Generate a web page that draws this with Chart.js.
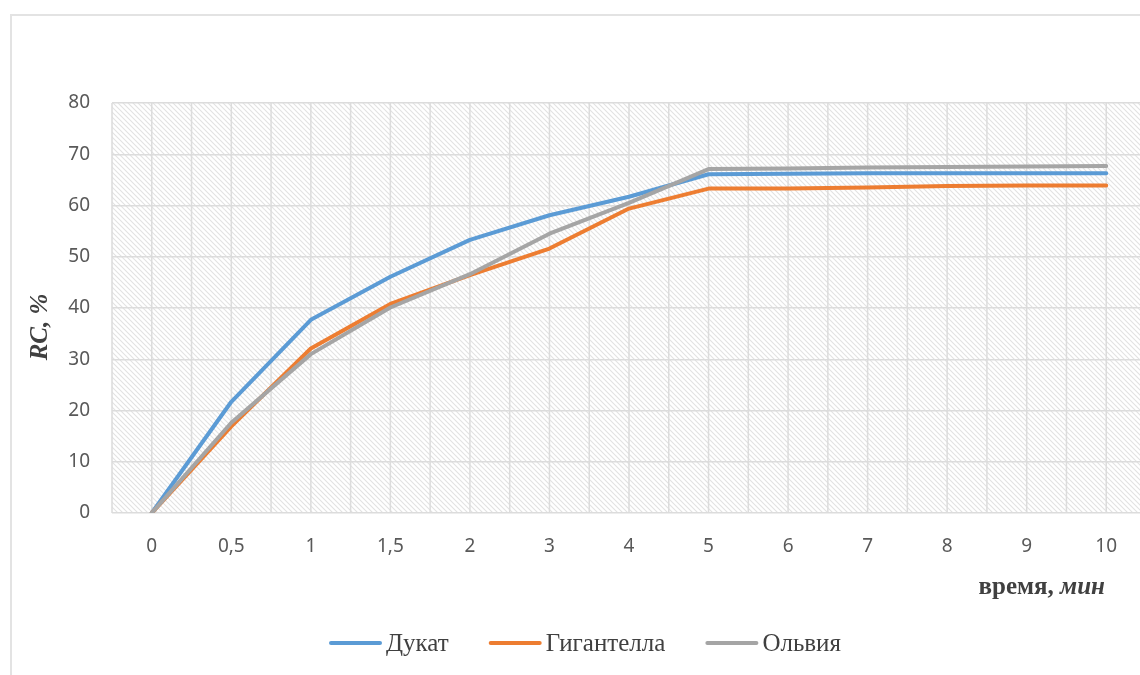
<!DOCTYPE html>
<html>
<head>
<meta charset="utf-8">
<script src="https://cdn.jsdelivr.net/npm/chart.js@4.4.1/dist/chart.umd.min.js"></script>
<style>
  html, body { margin: 0; padding: 0; width: 1140px; height: 675px; overflow: hidden; background: #ffffff; }
  #frame { position: absolute; left: 10px; top: 14px; width: 1200px; height: 700px; border: 2px solid #e3e3e3; box-sizing: border-box; }
  #wrap { position: absolute; left: 0; top: 0; width: 1160px; height: 675px; }
</style>
</head>
<body>
<div id="frame"></div>
<div id="wrap"><canvas id="c" width="1160" height="675"></canvas></div>
<script>
const categories = ['0', '0,5', '1', '1,5', '2', '3', '4', '5', '6', '7', '8', '9', '10'];
const dukat      = [0, 21.7, 37.7, 46.1, 53.3, 58.1, 61.7, 66.1, 66.2, 66.3, 66.3, 66.3, 66.3];
const gigantella = [0, 16.9, 32.1, 40.8, 46.4, 51.6, 59.4, 63.3, 63.3, 63.5, 63.8, 63.9, 63.9];
const olviya     = [0, 17.6, 31.0, 40.1, 46.6, 54.5, 60.5, 67.1, 67.2, 67.4, 67.5, 67.6, 67.7];
const seriesNames = ['Дукат', 'Гигантелла', 'Ольвия'];
const yTicks = [0, 10, 20, 30, 40, 50, 60, 70, 80];

function makeHatch(ctx) {
  const p = document.createElement('canvas');
  p.width = 5; p.height = 5;
  const g = p.getContext('2d');
  g.fillStyle = '#ffffff';
  g.fillRect(0, 0, 5, 5);
  g.strokeStyle = '#e2e2e2';
  g.lineWidth = 1.1;
  g.beginPath();
  g.moveTo(-1, -1); g.lineTo(6, 6);
  g.moveTo(-1, 4); g.lineTo(1, 6);
  g.moveTo(4, -1); g.lineTo(6, 1);
  g.stroke();
  return ctx.createPattern(p, 'repeat');
}

const colors = ['#5b9bd5', '#ed7d31', '#a5a5a5'];
const values = [dukat, gigantella, olviya];

const decorPlugin = {
  id: 'decor',
  beforeDraw(chart) {
    const { ctx, chartArea: a } = chart;
    ctx.save();
    ctx.fillStyle = makeHatch(ctx);
    ctx.fillRect(a.left, a.top, a.right - a.left, a.bottom - a.top);
    ctx.restore();
  },
  beforeDatasetsDraw(chart) {
    const { ctx, chartArea: a, scales } = chart;
    const xs = scales.x;
    const n = categories.length;
    const half = (xs.getPixelForValue(1) - xs.getPixelForValue(0)) / 2;
    ctx.save();
    ctx.strokeStyle = '#dcdcdc';
    ctx.lineWidth = 1.5;
    ctx.beginPath();
    for (let i = 0; i < n; i++) {
      const x = xs.getPixelForValue(i);
      [x - half, x].forEach(px => {
        ctx.moveTo(px, a.top);
        ctx.lineTo(px, a.bottom);
      });
    }
    ctx.stroke();
    ctx.restore();
  },
  afterDraw(chart) {
    const { ctx } = chart;
    // Y title
    ctx.save();
    ctx.fillStyle = '#404040';
    ctx.translate(41, 327);
    ctx.rotate(-Math.PI / 2);
    ctx.textBaseline = 'middle';
    ctx.textAlign = 'center';
    ctx.font = 'italic bold 25px "Liberation Serif"';
    ctx.fillText('RC, %', 0, 0);
    ctx.restore();
    // X title
    ctx.save();
    ctx.fillStyle = '#404040';
    ctx.textBaseline = 'middle';
    ctx.textAlign = 'left';
    const aPart = 'время, ';
    const bPart = 'мин';
    ctx.font = 'bold 25px "Liberation Serif"';
    const wa = ctx.measureText(aPart).width;
    ctx.font = 'italic bold 25px "Liberation Serif"';
    const wb = ctx.measureText(bPart).width;
    const x0 = 1105 - wa - wb;
    ctx.font = 'bold 25px "Liberation Serif"';
    ctx.fillText(aPart, x0, 588);
    ctx.font = 'italic bold 25px "Liberation Serif"';
    ctx.fillText(bPart, x0 + wa, 588);
    ctx.restore();
    // Legend
    ctx.save();
    ctx.font = '25px "Liberation Serif"';
    ctx.textBaseline = 'middle';
    ctx.textAlign = 'left';
    const lineLen = 53, gapLT = 4, gapItem = 40, ly = 643;
    const widths = seriesNames.map(s => ctx.measureText(s).width);
    const total = widths.reduce((s, w) => s + lineLen + gapLT + w, 0) + gapItem * (seriesNames.length - 1);
    let x = 585 - total / 2;
    chart.data.datasets.forEach((ds, i) => {
      ctx.strokeStyle = ds.borderColor;
      ctx.lineWidth = 4;
      ctx.lineCap = 'round';
      ctx.beginPath();
      ctx.moveTo(x + 2, ly);
      ctx.lineTo(x + lineLen - 2, ly);
      ctx.stroke();
      ctx.fillStyle = '#404040';
      ctx.fillText(ds.label, x + lineLen + gapLT, ly + 1);
      x += lineLen + gapLT + widths[i] + gapItem;
    });
    ctx.restore();
  }
};

new Chart(document.getElementById('c'), {
  type: 'line',
  data: {
    labels: categories,
    datasets: values.map((v, i) => ({
      label: seriesNames[i],
      data: v,
      borderColor: colors[i],
      backgroundColor: colors[i],
      borderWidth: 4,
      pointRadius: 0,
      tension: 0,
      borderCapStyle: 'round',
      borderJoinStyle: 'round',
      order: 3 - i
    }))
  },
  options: {
    responsive: false,
    animation: false,
    layout: { padding: { top: 103, right: 14, left: 0, bottom: 0 } },
    plugins: {
      tooltip: { enabled: false },
      legend: { display: false }
    },
    scales: {
      x: {
        type: 'category',
        offset: true,
        grid: { display: false, drawTicks: false },
        border: { display: false },
        ticks: { color: '#595959', font: { family: '"Noto Sans"', size: 19 }, padding: 22, maxRotation: 0, autoSkip: false },
        afterFit(s) { s.height = 162; }
      },
      y: {
        min: 0, max: 80,
        afterBuildTicks(s) { s.ticks = yTicks.map(v => ({ value: v })); },
        grid: { color: '#dcdcdc', lineWidth: 1.5, drawTicks: false },
        border: { display: false },
        ticks: { color: '#595959', font: { family: '"Noto Sans"', size: 19 }, padding: 22 },
        afterFit(s) { s.width = 112; }
      }
    }
  },
  plugins: [decorPlugin]
});
</script>
</body>
</html>
